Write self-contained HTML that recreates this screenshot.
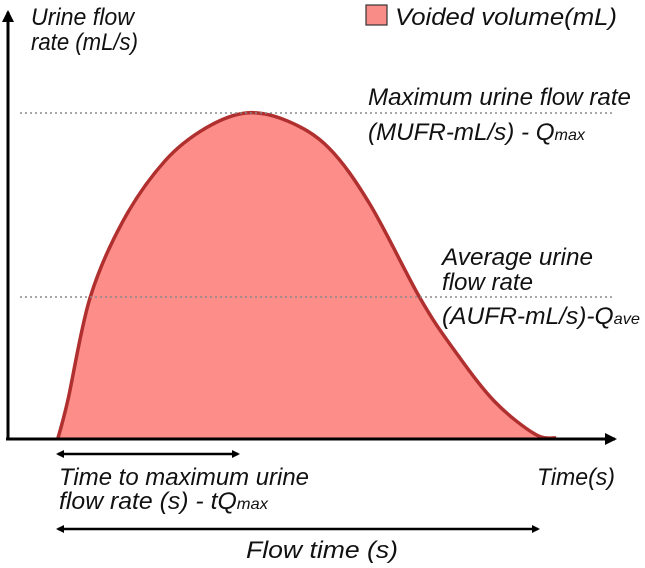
<!DOCTYPE html>
<html><head><meta charset="utf-8"><style>
body{margin:0;background:#fff}
svg text{font-family:"Liberation Sans",sans-serif;font-style:italic;fill:#111}
</style></head><body>
<svg width="645" height="563" viewBox="0 0 645 563">
<defs>
<marker id="ah" markerWidth="8" markerHeight="8" refX="6" refY="4" orient="auto-start-reverse" markerUnits="userSpaceOnUse"><path d="M0,0 L8,4 L0,8 Z" fill="#000"/></marker>
<marker id="ah2" markerWidth="12" markerHeight="12" refX="10" refY="6" orient="auto-start-reverse" markerUnits="userSpaceOnUse"><path d="M0,0 L12,6 L0,12 Z" fill="#000"/></marker>
</defs>
<g id="curve-layer"></g>
<line x1="20" y1="113" x2="615" y2="113" stroke="#888" stroke-width="1.5" stroke-dasharray="2,3"/>
<line x1="20" y1="297" x2="615" y2="297" stroke="#888" stroke-width="1.5" stroke-dasharray="2,3"/>
<line x1="8" y1="439" x2="8" y2="12" stroke="#000" stroke-width="3" marker-end="url(#ah2)"/>
<line x1="6" y1="439" x2="615" y2="439" stroke="#000" stroke-width="3" marker-end="url(#ah2)"/>
<line x1="58" y1="454" x2="238" y2="454" stroke="#000" stroke-width="2.5" marker-start="url(#ah)" marker-end="url(#ah)"/>
<line x1="58" y1="529" x2="538" y2="529" stroke="#000" stroke-width="2.5" marker-start="url(#ah)" marker-end="url(#ah)"/>
<g font-size="24">
<text x="31" y="25" textLength="103" lengthAdjust="spacingAndGlyphs">Urine flow</text>
<text x="31" y="50" textLength="107" lengthAdjust="spacingAndGlyphs">rate (mL/s)</text>
<rect x="366" y="5" width="21" height="20" fill="#f98c86" stroke="#333" stroke-width="1.2"/>
<text x="395" y="25" textLength="222" lengthAdjust="spacingAndGlyphs">Voided volume(mL)</text>
<text x="368" y="105" textLength="263" lengthAdjust="spacingAndGlyphs">Maximum urine flow rate</text>
<text x="368" y="140" textLength="217" lengthAdjust="spacingAndGlyphs">(MUFR-mL/s) - Q<tspan font-size="16">max</tspan></text>
<text x="442" y="265" textLength="151" lengthAdjust="spacingAndGlyphs">Average urine</text>
<text x="442" y="290" textLength="91" lengthAdjust="spacingAndGlyphs">flow rate</text>
<text x="442" y="324" textLength="198" lengthAdjust="spacingAndGlyphs">(AUFR-mL/s)-Q<tspan font-size="16">ave</tspan></text>
<text x="59" y="485" textLength="250" lengthAdjust="spacingAndGlyphs">Time to maximum urine</text>
<text x="59" y="509" textLength="209" lengthAdjust="spacingAndGlyphs">flow rate (s) - tQ<tspan font-size="16">max</tspan></text>
<text x="537" y="485" textLength="78" lengthAdjust="spacingAndGlyphs">Time(s)</text>
<text x="246" y="558" textLength="152" lengthAdjust="spacingAndGlyphs">Flow time (s)</text>
</g>
</svg>
<script>
const timeValues = [10, 12, 16.4, 23, 31.4, 39.6, 47.8, 56, 64.2, 72.4, 82.4, 89, 97.2, 105.4, 109.6];
const flowValues = [0, 12, 43.75, 67.8, 86.6, 96.9, 101.6, 99, 90.6, 73, 43.75, 28, 11.6, 1.2, 0];
function xScale(t){return 8 + t*5;}
function yScale(q){return 438 - q*3.2;}
const pts = timeValues.map((t,i)=>[xScale(t), yScale(flowValues[i])]);
let d = 'M'+pts[0][0]+','+pts[0][1];
for(let i=0;i<pts.length-1;i++){
  const p0=pts[Math.max(0,i-1)],p1=pts[i],p2=pts[i+1],p3=pts[Math.min(pts.length-1,i+2)];
  const c1=[p1[0]+(p2[0]-p0[0])/6,p1[1]+(p2[1]-p0[1])/6];
  const c2=[p2[0]-(p3[0]-p1[0])/6,p2[1]-(p3[1]-p1[1])/6];
  d+=' C'+c1[0]+','+c1[1]+' '+c2[0]+','+c2[1]+' '+p2[0]+','+p2[1];
}
const ns='http://www.w3.org/2000/svg';
const area=document.createElementNS(ns,'path');
area.setAttribute('d', d+' Z');
area.setAttribute('fill','#fd8d88');


const line=document.createElementNS(ns,'path');
line.setAttribute('d', d);
line.setAttribute('fill','none');
line.setAttribute('stroke','#b0302f');
line.setAttribute('stroke-width','3.5');


const g=document.getElementById('curve-layer');
g.appendChild(area);g.appendChild(line);
</script>
</body></html>
